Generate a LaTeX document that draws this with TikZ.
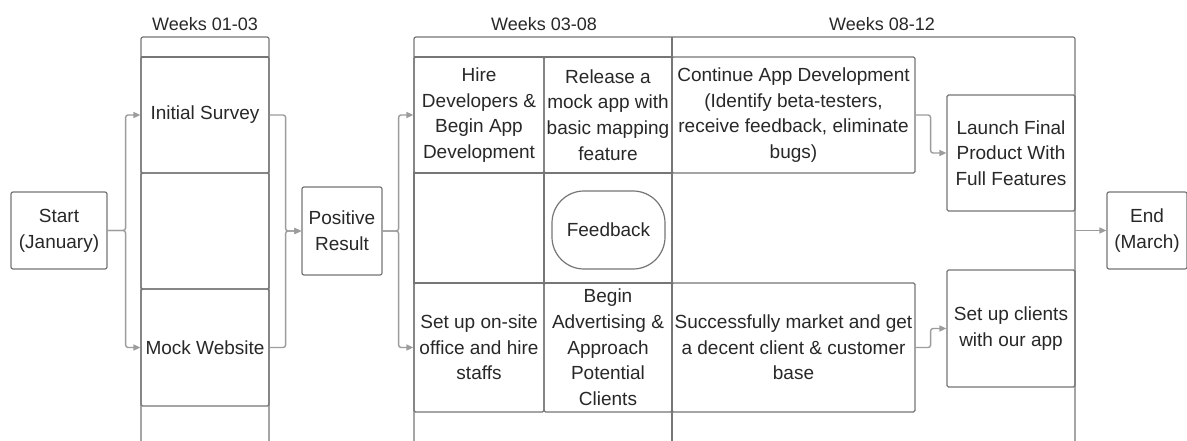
\documentclass[tikz,border=0pt]{standalone}
\usepackage{fontspec}
\setmainfont{Liberation Sans}
\usetikzlibrary{arrows.meta}
\definecolor{bordc}{HTML}{767676}
\definecolor{connc}{HTML}{9C9C9C}
\definecolor{txtc}{HTML}{282828}
\begin{document}
\begin{tikzpicture}[x=1pt,y=-1pt,
  every node/.style={text=txtc,font=\fontsize{19}{25.7}\selectfont,align=center,inner sep=0pt},
  cell/.style={draw=bordc,line width=1.2pt,rounded corners=1.5pt,minimum width=#1},
  box/.style={draw=bordc,line width=1.2pt,rounded corners=2pt},
  colline/.style={draw=bordc,line width=1.2pt},
  conn/.style={draw=connc,line width=1.4pt,rounded corners=2.5pt,-{Triangle[length=7pt,width=6pt]}},
  hdr/.style={font=\fontsize{18}{22}\selectfont}]
\useasboundingbox (0,0) rectangle (1187,441);
\fill[white] (0,0) rectangle (1187,441);
% column outlines
\draw[colline,rounded corners=2pt] (141,441) -- (141,37) -- (269,37) -- (269,441);
\draw[colline] (141,57) -- (269,57);
\draw[colline,rounded corners=2pt] (414,441) -- (414,37) -- (1075,37) -- (1075,441);
\draw[colline] (672,37) -- (672,441);
\draw[colline] (414,57) -- (672,57);
% empty middle cells
\draw[colline] (414,173) rectangle (544,283);
\draw[colline] (544,173) rectangle (672,283);
% headers
\node[hdr] (h1) at (205,24) {Weeks 01-03};
\node[hdr] (h2) at (544,24) {Weeks 03-08};
\node[hdr] (h3) at (882,24) {Weeks 08-12};
% nodes
\node[box,minimum width=96pt,minimum height=77pt] (start) at (59,230.5) {Start\\(January)};
\node[cell=128pt,minimum height=116pt] (survey) at (205,115) {Initial Survey};
\node[cell=128pt,minimum height=116pt] (midA) at (205,231) {};
\node[cell=128pt,minimum height=117pt] (mock) at (205,347.5) {Mock Website};
\node[box,minimum width=80pt,minimum height=88pt] (positive) at (342,231) {Positive\\Result};
\node[cell=130pt,minimum height=116pt] (hire) at (479,115) {Hire\\Developers \&\\Begin App\\Development};
\node[cell=128pt,minimum height=116pt] (release) at (608,115) {Release a\\mock app with\\basic mapping\\feature};
\node[draw=bordc,line width=1.2pt,rounded corners=32pt,minimum width=113pt,minimum height=78pt] (feedback) at (608.5,230) {Feedback};
\node[cell=130pt,minimum height=129pt] (onsite) at (479,347.5) {Set up on-site\\office and hire\\staffs};
\node[cell=128pt,minimum height=129pt] (advert) at (608,347.5) {Begin\\Advertising \&\\Approach\\Potential\\Clients};
\node[cell=243pt,minimum height=116pt] (cont) at (793.5,115) {Continue App Development\\(Identify beta-testers,\\receive feedback, eliminate\\bugs)};
\node[cell=243pt,minimum height=129pt] (market) at (793.5,347.5) {Successfully market and get\\a decent client \& customer\\base};
\node[cell=128pt,minimum height=116pt] (launch) at (1011,153) {Launch Final\\Product With\\Full Features};
\node[cell=128pt,minimum height=117pt] (clients) at (1011,328.5) {Set up clients\\with our app};
\node[box,minimum width=80pt,minimum height=77pt] (end) at (1147,230.5) {End\\(March)};
\coordinate (c3r) at (1075,230.5);
% connectors
\draw[conn] (start.east) -- ++(18,0) |- (survey.west);
\draw[conn] (start.east) -- ++(18,0) |- (mock.west);
\draw[conn] (survey.east) -- ++(16,0) |- (positive.west);
\draw[conn] (mock.east) -- ++(16,0) |- (positive.west);
\draw[conn] (positive.east) -- ++(16,0) |- (hire.west);
\draw[conn] (positive.east) -- ++(16,0) |- (onsite.west);
\draw[conn] (cont.east) -- ++(15,0) |- (launch.west);
\draw[conn] (market.east) -- ++(15,0) |- (clients.west);
\draw[conn] (c3r) -- (end.west);
\end{tikzpicture}
\end{document}
